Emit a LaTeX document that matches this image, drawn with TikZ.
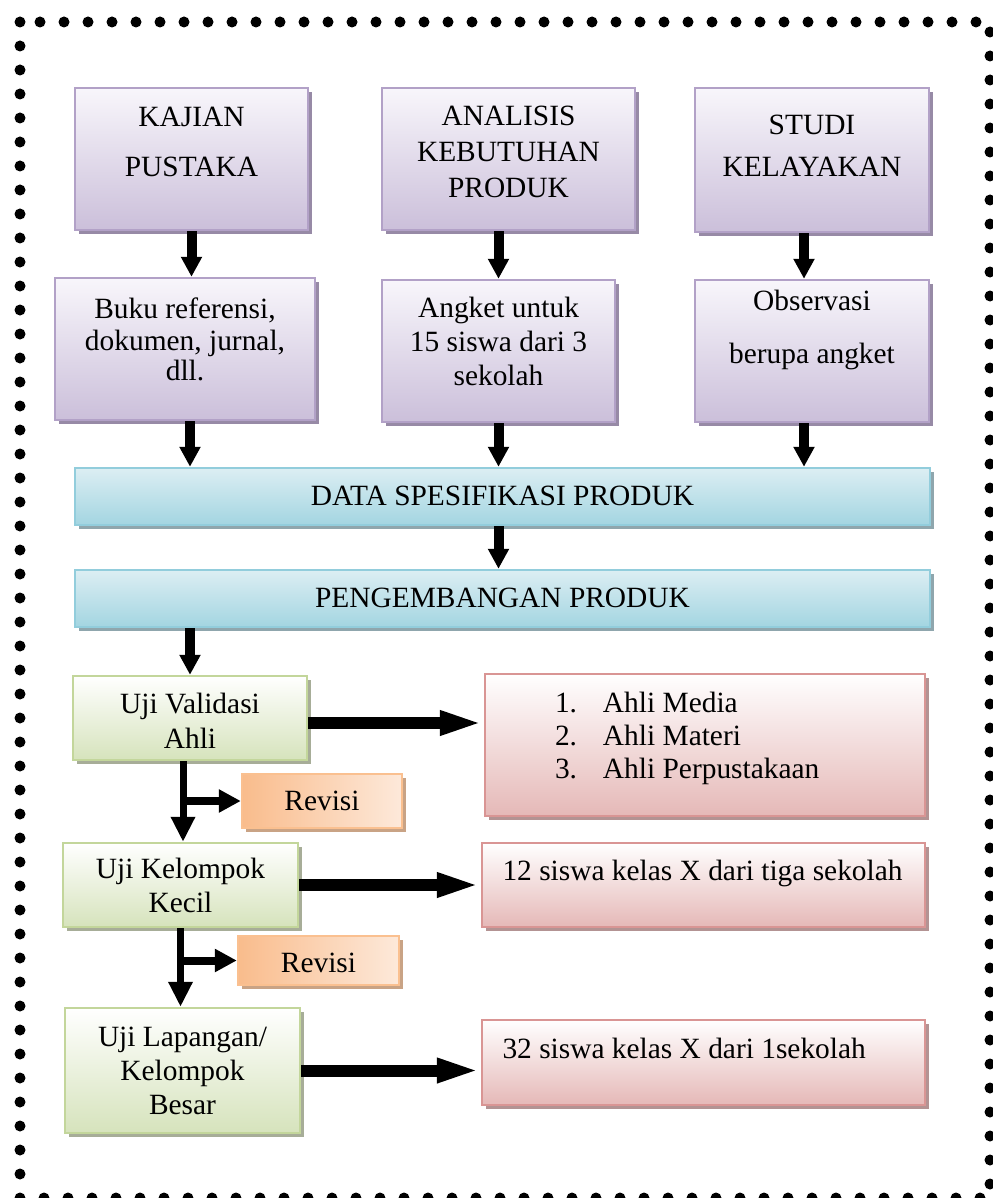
\documentclass[tikz,border=0pt]{standalone}
\usepackage{fontspec}
\setmainfont{Liberation Serif}
\usetikzlibrary{arrows.meta,shadows}

\definecolor{purpbd}{HTML}{B2A1C7}
\definecolor{purptop}{HTML}{F8F6FB}
\definecolor{purpbot}{HTML}{CBBFDA}
\definecolor{purpsh}{HTML}{978AA6}
\definecolor{bluebd}{HTML}{92CDDC}
\definecolor{bluelt}{HTML}{DCEEF3}
\definecolor{bluedk}{HTML}{A3D5E1}
\definecolor{bluesh}{HTML}{8FA6AD}
\definecolor{grnbd}{HTML}{C3D69B}
\definecolor{grnbot}{HTML}{D6E3BC}
\definecolor{grnsh}{HTML}{A7AD98}
\definecolor{redbd}{HTML}{D99594}
\definecolor{redbot}{HTML}{E5B8B7}
\definecolor{redsh}{HTML}{B39393}
\definecolor{orgbd}{HTML}{FAC090}
\definecolor{orgdk}{HTML}{F9BC8C}
\definecolor{orglt}{HTML}{FDE9DA}
\definecolor{orgsh}{HTML}{C9A385}

\begin{document}
\begin{tikzpicture}[x=0.5pt,y=-0.5pt,
  every node/.style={font=\fontsize{14.7}{17}\selectfont, align=center, text depth=0pt},
  box/.style={draw, line width=1.2pt, inner sep=3pt},
  pbox/.style={box, draw=purpbd, top color=purptop, bottom color=purpbot,
    drop shadow={shadow xshift=2pt, shadow yshift=-2pt, fill=purpsh, opacity=1}},
  bbox/.style={box, draw=bluebd, top color=bluelt, bottom color=bluedk,
    drop shadow={shadow xshift=2pt, shadow yshift=-2pt, fill=bluesh, opacity=1}},
  gbox/.style={box, draw=grnbd, top color=white, bottom color=grnbot,
    drop shadow={shadow xshift=2pt, shadow yshift=-2pt, fill=grnsh, opacity=1}},
  rbox/.style={box, draw=redbd, top color=white, bottom color=redbot, align=left,
    execute at begin node={\spaceskip=0pt\xspaceskip=0pt\relax},
    drop shadow={shadow xshift=2pt, shadow yshift=-2pt, fill=redsh, opacity=1}},
  obox/.style={box, draw=orgbd, left color=orgdk, right color=orglt,
    drop shadow={shadow xshift=2pt, shadow yshift=-2pt, fill=orgsh, opacity=1}},
  vert/.style={line width=5pt, -{Triangle[length=10pt,width=10pt]}},
  down/.style={line width=3.5pt, -{Triangle[length=12.5pt,width=11.5pt]}},
  branch/.style={line width=4pt, -{Triangle[length=11pt,width=11pt]}},
  horz/.style={line width=6pt, -{Triangle[length=22pt,width=11pt]}}
]
\useasboundingbox (0,0) rectangle (992,1198);
\draw[line width=5.5pt, dash pattern=on 0pt off 12pt, line cap=round] (20,22) rectangle (990,1198);

\node[pbox, minimum width=116.5pt, minimum height=71pt, text height=18pt] (kajian) at (191.5,159) {KAJIAN\\[8pt]PUSTAKA};
\node[pbox, minimum width=126.5pt, minimum height=71pt, text height=39pt] (analisis) at (508.5,159) {ANALISIS\\[1pt]KEBUTUHAN\\[1pt]PRODUK};
\node[pbox, minimum width=117pt, minimum height=72pt, text height=17pt] (studi) at (812,160) {STUDI\\[4pt]KELAYAKAN};
\node[pbox, minimum width=130pt, minimum height=71pt, text height=31pt] (buku) at (185,349) {Buku referensi,\\[-1pt]dokumen, jurnal,\\[-2pt]dll.};
\node[pbox, minimum width=116.5pt, minimum height=71pt, text height=34pt] (angket) at (498.5,351) {Angket untuk\\15 siswa dari 3\\sekolah};
\node[pbox, minimum width=117pt, minimum height=71pt, text height=12pt] (observasi) at (812,351) {Observasi\\[9.5pt]berupa angket};

\node[bbox, minimum width=427.5pt, minimum height=28.5pt, text height=8.5pt] (dataspec) at (502.5,496.5) {DATA SPESIFIKASI PRODUK};
\node[bbox, minimum width=427.5pt, minimum height=28.5pt, text height=8.5pt] (pengembangan) at (502.5,598.5) {PENGEMBANGAN PRODUK};

\node[gbox, minimum width=117pt, minimum height=42pt, text height=30pt] (ujival) at (190,718) {Uji Validasi\\[0.5pt]Ahli};
\node[gbox, minimum width=117.5pt, minimum height=42pt, text height=27pt] (ujikecil) at (180.5,885) {Uji Kelompok\\Kecil};
\node[gbox, minimum width=117.5pt, minimum height=62.5pt, text height=43.5pt] (ujilap) at (182.5,1070.5) {Uji Lapangan/\\Kelompok\\Besar};

\node[obox, minimum width=80pt, minimum height=27pt, text height=9pt] (revisi1) at (322,801) {Revisi};
\node[obox, minimum width=80.5pt, minimum height=24.5pt, text height=11.5pt] (revisi2) at (318.5,960.5) {Revisi};

\node[rbox, minimum width=220pt, minimum height=71pt, text width=150pt, inner xsep=35pt, text height=10pt, text depth=43pt] (ahli) at (705,745)
  {\makebox[24pt][l]{1.}Ahli Media\\[-0.5pt]\makebox[24pt][l]{2.}Ahli Materi\\[-0.5pt]\makebox[24pt][l]{3.}Ahli Perpustakaan};
\node[rbox, minimum width=221.5pt, minimum height=42pt, text width=201pt, inner xsep=10.25pt, text height=10pt, text depth=15pt] (kecil) at (703.5,885)
  {\mbox{12 siswa kelas X dari tiga sekolah}};
\node[rbox, minimum width=221.5pt, minimum height=42.5pt, text width=201pt, inner xsep=10.25pt, text height=10pt, text depth=14.5pt] (besar) at (703.5,1062.5)
  {\mbox{32 siswa kelas X dari 1sekolah}};

\draw[vert] (kajian.south) -- (kajian.south |- buku.north);
\draw[vert] (angket.north |- analisis.south) -- (angket.north);
\draw[vert] ([xshift=-4pt]studi.south) -- ([xshift=-4pt]observasi.north);
\draw[vert] ([xshift=2.5pt]buku.south) -- ([xshift=2.5pt]buku.south |- dataspec.north);
\draw[vert] (angket.south) -- (angket.south |- dataspec.north);
\draw[vert] ([xshift=-4pt]observasi.south) -- ([xshift=-4pt]observasi.south |- dataspec.north);
\draw[vert] (angket.south |- dataspec.south) -- (angket.south |- pengembangan.north);
\draw[vert] (ujival.north |- pengembangan.south) -- (ujival.north);

\draw[down] ([xshift=-3.5pt]ujival.south) -- ([xshift=-3.5pt]ujival.south |- ujikecil.north);
\draw[branch] ([xshift=-3.5pt]ujival.south |- revisi1.west) -- (revisi1.west);
\draw[down] (ujikecil.south) -- (ujikecil.south |- ujilap.north);
\draw[branch] (ujikecil.south |- revisi2.west) -- (revisi2.west);

\draw[horz] ([yshift=-2.5pt]ujival.east) -- ([yshift=-2.5pt]ujival.east -| ahli.west);
\draw[horz] (ujikecil.east) -- (ujikecil.east -| kecil.west);
\draw[horz] (ujilap.east) -- (ujilap.east -| besar.west);
\end{tikzpicture}
\end{document}
